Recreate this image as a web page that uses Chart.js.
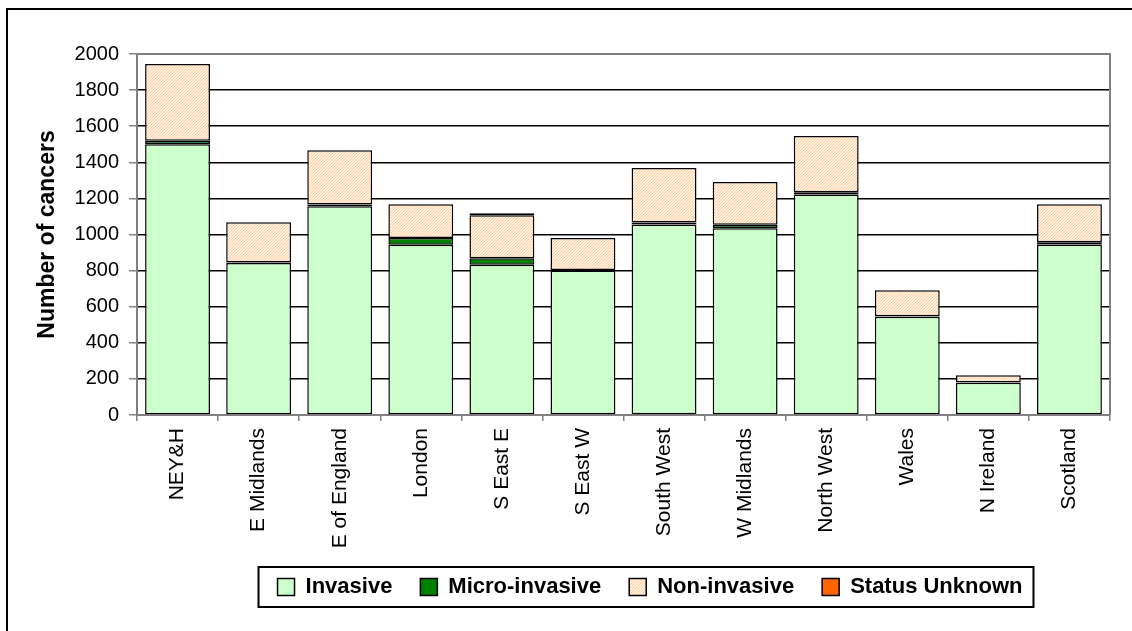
<!DOCTYPE html>
<html>
<head>
<meta charset="utf-8">
<script src="https://cdn.jsdelivr.net/npm/chart.js@4/dist/chart.umd.min.js"></script>
<style>
  html, body { margin: 0; padding: 0; background: #fff; }
  #wrap { width: 1132px; height: 631px; }
</style>
</head>
<body>
<div id="wrap"><canvas id="barChart" width="1132" height="631"></canvas></div>
<script>
const regions = [
  "NEY&H", "E Midlands", "E of England", "London", "S East E", "S East W",
  "South West", "W Midlands", "North West", "Wales", "N Ireland", "Scotland",
];
const invasive = [1500, 842, 1156, 943, 832, 800, 1056, 1035, 1222, 544, 178, 944];
const microInvasive = [20, 3, 10, 37, 36, 3, 10, 19, 12, 3, 2, 13];
const nonInvasive = [424, 223, 301, 188, 238, 177, 302, 237, 312, 144, 40, 210];
const statusUnknown = [0, 0, 0, 0, 12, 0, 0, 0, 0, 0, 0, 0];
const yTicks = [0, 200, 400, 600, 800, 1000, 1200, 1400, 1600, 1800, 2000];

const FONT = "'Liberation Sans', Arial, sans-serif";

// light peach fill with fine orange diagonal hatching
function hatchPattern() {
  const tile = document.createElement("canvas");
  tile.width = 3;
  tile.height = 3;
  const t = tile.getContext("2d");
  t.fillStyle = "#fff0e2";
  t.fillRect(0, 0, 3, 3);
  t.fillStyle = "#ffcc9c";
  for (let i = 0; i < 3; i++) t.fillRect(i, 2 - i, 1, 1);
  return t.createPattern(tile, "repeat");
}

const ctx = document.getElementById("barChart");
const hatch = hatchPattern();

// outer frame, plot border and the box around the legend
const framePlugin = {
  id: "frames",
  beforeDraw(chart) {
    const c = chart.ctx;
    c.save();
    c.strokeStyle = "#000";
    c.lineWidth = 2;
    c.strokeRect(7, 9, 1200, 700);
    c.restore();
  },
  afterLayout(chart) {
    const lg = chart.legend;
    const shift = 650 - (lg.left + lg.right) / 2;
    lg.left += shift;
    lg.right += shift;
  },
  afterDraw(chart) {
    const c = chart.ctx;
    const a = chart.chartArea;
    c.save();
    c.strokeStyle = "#808080";
    c.lineWidth = 2;
    c.beginPath();
    c.moveTo(a.left, a.top);
    c.lineTo(a.right, a.top);
    c.lineTo(a.right, a.bottom);
    c.stroke();

    const boxes = chart.legend.legendHitBoxes;
    if (boxes && boxes.length) {
      const first = boxes[0];
      const last = boxes[boxes.length - 1];
      const yc = first.top + first.height / 2;
      c.strokeStyle = "#000";
      c.lineWidth = 2;
      c.strokeRect(first.left - 19, yc - 20, last.left + last.width + 11 - (first.left - 19), 40);
    }
    c.restore();
  },
};

const seriesStyle = { borderColor: "#000", borderWidth: 1.5, borderSkipped: false };

new Chart(ctx, {
  type: "bar",
  data: {
    labels: regions,
    datasets: [
      { label: "Invasive", data: invasive, backgroundColor: "#ccffcc", ...seriesStyle },
      { label: "Micro-invasive", data: microInvasive, backgroundColor: "#008000", ...seriesStyle },
      { label: "Non-invasive", data: nonInvasive, backgroundColor: hatch, ...seriesStyle },
      { label: "Status Unknown", data: statusUnknown, backgroundColor: "#ff6600", ...seriesStyle },
    ],
  },
  options: {
    responsive: false,
    animation: false,
    layout: { padding: { left: 0, right: 22, top: 54, bottom: 23 } },
    datasets: { bar: { barPercentage: 0.8, categoryPercentage: 1 } },
    plugins: {
      legend: {
        position: "bottom",
        labels: {
          color: "#000",
          font: { family: FONT, size: 22, weight: "bold" },
          boxWidth: 17,
          boxHeight: 17,
          padding: 28,
        },
      },
      tooltip: { enabled: false },
    },
    scales: {
      x: {
        stacked: true,
        afterFit(scale) { scale.height = 133; },
        grid: { drawOnChartArea: false, tickLength: 6, tickColor: "#808080", lineWidth: 1.5 },
        border: { color: "#808080", width: 2 },
        ticks: {
          color: "#000",
          font: { family: FONT, size: 21 },
          minRotation: 90,
          maxRotation: 90,
          padding: 7,
          autoSkip: false,
        },
      },
      y: {
        stacked: true,
        min: 0,
        max: 2000,
        afterFit(scale) { scale.width = 137; },
        afterBuildTicks(scale) { scale.ticks = yTicks.map((v) => ({ value: v })); },
        grid: { color: "#000", lineWidth: 1.5, tickLength: 8, tickColor: "#808080" },
        border: { color: "#808080", width: 2 },
        ticks: {
          color: "#000",
          font: { family: FONT, size: 20 },
          padding: 10,
          callback: (v) => String(v),
        },
        title: {
          display: true,
          text: "Number of cancers",
          color: "#000",
          font: { family: FONT, size: 23, weight: "bold" },
          padding: { top: 34, bottom: 0 },
        },
      },
    },
  },
  plugins: [framePlugin],
});
</script>
</body>
</html>
